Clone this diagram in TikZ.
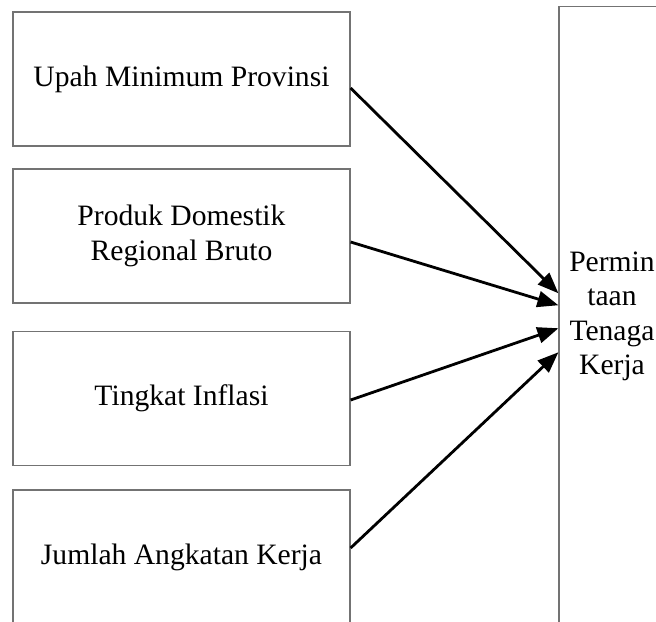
\documentclass[tikz,border=0pt]{standalone}
\usepackage{fontspec}
\setmainfont{Liberation Serif}
\usetikzlibrary{arrows.meta}

\begin{document}
\begin{tikzpicture}[x=0.5pt,y=-0.5pt,
    kotak/.style={draw=black!55,line width=0.6pt,minimum width=168.5pt,minimum height=67pt,
      inner sep=0pt,align=center,font=\fontsize{14.8}{17.2}\selectfont},
    panah/.style={-{Triangle[length=10.5pt,width=8pt]},line width=1.4pt}]
      \useasboundingbox (0,0) rectangle (656,621);
      \clip (0,0) rectangle (656,621);
      \node[kotak] (ump) at (181.5,79) {Upah Minimum Provinsi};
      \node[kotak] (pdrb) at (181.5,236) {Produk Domestik\\Regional Bruto};
      \node[kotak] (inflasi) at (181.5,398.5) {Tingkat Inflasi};
      \node[kotak] (tak) at (181.5,557) {Jumlah Angkatan Kerja};

      \node[kotak,minimum width=53pt,minimum height=309.75pt] (ptk) at (612,316.25)
        {Permin\\taan\\Tenaga\\Kerja};

      \draw[panah] ([yshift=-4.5pt]ump.east) -- ([yshift=11.5pt]ptk.west);
      \draw[panah] ([yshift=-3pt]pdrb.east) -- ([yshift=5.5pt]ptk.west);
      \draw[panah] ([yshift=-0.75pt]inflasi.east) -- ([yshift=-6pt]ptk.west);
      \draw[panah] ([yshift=4.5pt]tak.east) -- ([yshift=-18pt]ptk.west);
    \end{tikzpicture}
\end{document}
